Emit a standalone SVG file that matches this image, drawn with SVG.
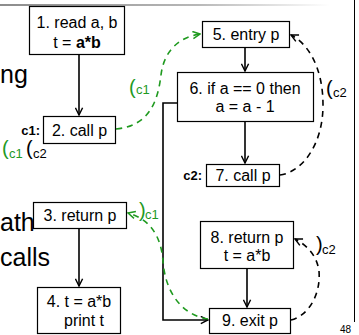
<svg xmlns="http://www.w3.org/2000/svg" width="359" height="335" viewBox="0 0 359 335">
<defs>
<linearGradient id="topg" x1="0" y1="0" x2="1" y2="0">
<stop offset="0" stop-color="#8c8c8c"/>
<stop offset="0.6" stop-color="#b8b8b8"/>
<stop offset="1" stop-color="#ffffff"/>
</linearGradient>
<marker id="ah" viewBox="0 0 10 10" refX="9" refY="5" markerWidth="9" markerHeight="9" markerUnits="userSpaceOnUse" orient="auto">
<path d="M1,1 L9,5 L1,9" fill="none" stroke="#000" stroke-width="1.6"/>
</marker>
<marker id="ahg" viewBox="0 0 10 10" refX="9" refY="5" markerWidth="9" markerHeight="9" markerUnits="userSpaceOnUse" orient="auto">
<path d="M1,1 L9,5 L1,9" fill="none" stroke="#1f9a1f" stroke-width="1.6"/>
</marker>
</defs>
<style>
.box{fill:#fff;stroke:#000;stroke-width:1.2}
.t{font-family:"Liberation Sans",Arial,sans-serif;font-size:16px;fill:#000;text-anchor:middle}
.lab{font-family:"Liberation Sans",Arial,sans-serif;font-size:13px;font-weight:bold;fill:#000;text-anchor:end}
.big{font-family:"Liberation Sans",Arial,sans-serif;font-size:25px;fill:#000}
.par{font-family:"Liberation Sans",Arial,sans-serif;font-size:20px}
.sub{font-family:"Liberation Sans",Arial,sans-serif;font-size:13px}
.g{fill:#1f9a1f}
.k{fill:#000}
.edge{fill:none;stroke:#000;stroke-width:1.6}
.dk{fill:none;stroke:#000;stroke-width:1.6;stroke-dasharray:6,5}
.dg{fill:none;stroke:#1f9a1f;stroke-width:1.6;stroke-dasharray:6,5}
</style>
<rect width="359" height="335" fill="#fff"/>
<rect x="0" y="4" width="330" height="2" fill="url(#topg)"/>
<line x1="354.5" y1="0" x2="354.5" y2="322" stroke="#000" stroke-width="1"/>
<text class="big" x="0" y="83">ng</text>
<text class="big" x="0" y="231">ath</text>
<text class="big" x="0" y="266">calls</text>
<text x="340" y="333" font-family="Liberation Sans,Arial,sans-serif" font-size="10" fill="#000">48</text>
<g id="connectors">
<line class="edge" x1="79" y1="54" x2="79" y2="115" marker-end="url(#ah)"/>
<line class="edge" x1="79" y1="228" x2="79" y2="286" marker-end="url(#ah)"/>
<line class="edge" x1="245" y1="47" x2="245" y2="71" marker-end="url(#ah)"/>
<line class="edge" x1="245" y1="122" x2="245" y2="163" marker-end="url(#ah)"/>
<line class="edge" x1="247" y1="268" x2="247" y2="307" marker-end="url(#ah)"/>
<polyline class="edge" points="177,103 163,103 163,320 208,320" marker-end="url(#ah)"/>
<path class="dg" d="M116,129 C150,126 158,100 161,75 C164,50 180,37 200,34" marker-end="url(#ahg)"/>
<path class="dk" d="M280,175 C302,172 323,145 323,105 C323,66 307,43 291,35" marker-end="url(#ah)"/>
<path class="dk" d="M291,320 C308,316 321,295 319,271 C317,256 307,245 295,239" marker-end="url(#ah)"/>
<path class="dg" d="M208,319 C181,315 165,291 163,261 C161,236 150,219 128,213" marker-end="url(#ahg)"/>
</g>
<g id="labels">
<text class="par g" x="129" y="94">(</text><text class="sub g" x="136" y="94">c1</text>
<text class="par k" x="326" y="95">(</text><text class="sub k" x="333" y="97">c2</text>
<text class="par g" x="139" y="217">)</text><text class="sub g" x="145" y="219">c1</text>
<text class="par k" x="316" y="251">)</text><text class="sub k" x="322" y="254">c2</text>
<text class="par g" x="2" y="155">(</text><text class="sub g" x="9" y="158">c1</text>
<text class="par k" x="26" y="155">(</text><text class="sub k" x="33" y="158">c2</text>
<text class="lab" x="40" y="135">c1:</text>
<text class="lab" x="202" y="180">c2:</text>
</g>
<g id="n1"><rect class="box" x="29.5" y="6.5" width="95" height="48"/>
<text class="t" x="77" y="28">1. read a, b</text>
<text class="t" x="77" y="48">t = <tspan font-weight="bold">a*b</tspan></text></g>
<g id="n2"><rect class="box" x="43.5" y="116.5" width="72" height="27"/>
<text class="t" x="79.5" y="136">2. call p</text></g>
<g id="n3"><rect class="box" x="33.5" y="202.5" width="93" height="26"/>
<text class="t" x="80" y="221">3. return p</text></g>
<g id="n4"><rect class="box" x="37.5" y="287.5" width="83" height="46"/>
<text class="t" x="79" y="307">4. t = a*b</text>
<text class="t" x="84" y="326">print t</text></g>
<g id="n5"><rect class="box" x="202.5" y="21.5" width="87" height="26"/>
<text class="t" x="246" y="40">5. entry p</text></g>
<g id="n6"><rect class="box" x="177.5" y="72.5" width="136" height="49"/>
<text class="t" x="245" y="94">6. if a == 0 then</text>
<text class="t" x="245" y="112">a = a - 1</text></g>
<g id="n7"><rect class="box" x="206.5" y="164.5" width="73" height="22"/>
<text class="t" x="243" y="181">7. call p</text></g>
<g id="n8"><rect class="box" x="200.5" y="221.5" width="93" height="47"/>
<text class="t" x="247" y="243">8. return p</text>
<text class="t" x="247" y="261">t = a*b</text></g>
<g id="n9"><rect class="box" x="209.5" y="308.5" width="81" height="25"/>
<text class="t" x="250" y="326">9. exit p</text></g>
</svg>
